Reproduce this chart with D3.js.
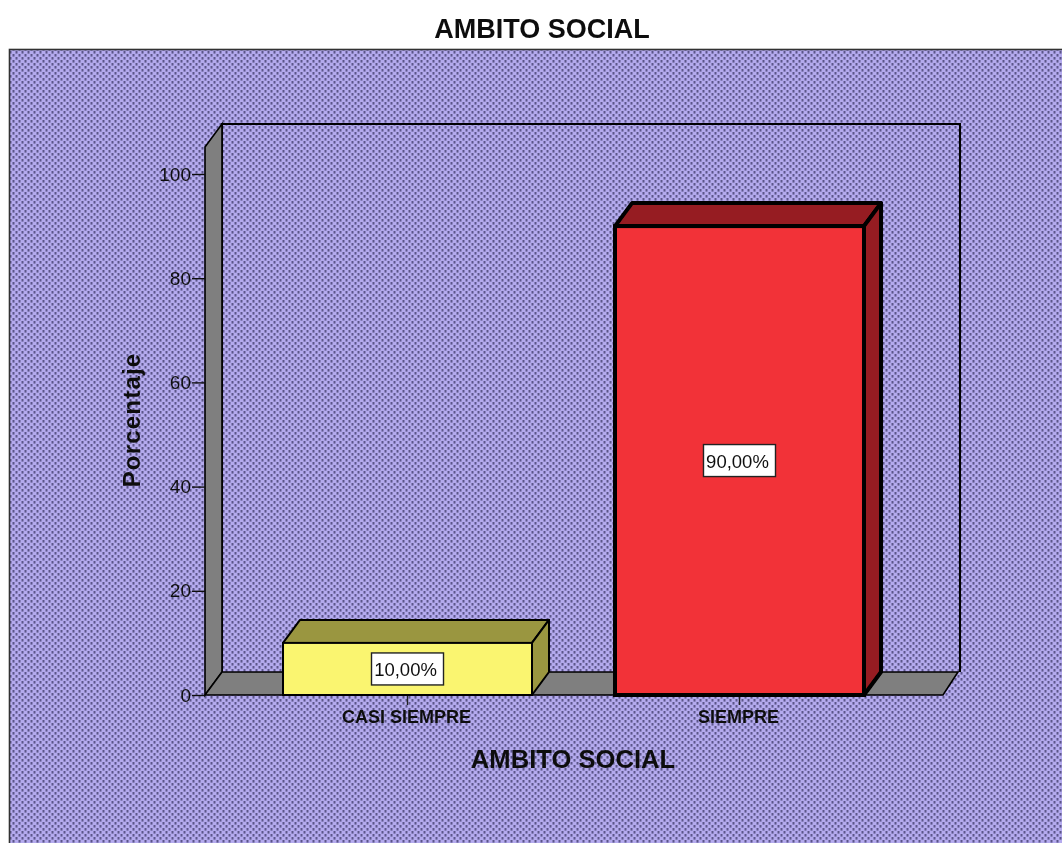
<!DOCTYPE html>
<html><head><meta charset="utf-8">
<script src="https://cdnjs.cloudflare.com/ajax/libs/d3/7.8.5/d3.min.js"></script>
<style>html,body{margin:0;padding:0;background:#fff;overflow:hidden}svg{display:block}text{font-family:"Liberation Sans",Arial,sans-serif;fill:#111}</style>
</head><body><svg id="c" width="1062" height="843"></svg>
<script>
const categories = ["CASI SIEMPRE", "SIEMPRE"];
const percentages = [10, 90];
const valueLabels = ["10,00%", "90,00%"];
const yTicks = [0, 20, 40, 60, 80, 100];
const frontColors = ["#faf56f", "#f23238"];
const sideColors = ["#9a9640", "#961e22"];
const chartTitle = "AMBITO SOCIAL";
const xTitle = "AMBITO SOCIAL";
const yTitle = "Porcentaje";

const svg = d3.select("#c");
const dx = 17, dy = 23;
const x = d3.scaleBand().domain(categories).range([204, 943]).paddingInner(0.25).paddingOuter(0.238);
const y = d3.scaleLinear().domain([0, 100]).range([695, 174]);
const yMax = 105.2;
const line = d3.line();

const defs = svg.append("defs");
const pat = defs.append("pattern").attr("id", "dots").attr("width", 6).attr("height", 6).attr("patternUnits", "userSpaceOnUse");
pat.append("rect").attr("width", 6).attr("height", 6).attr("fill", "#b4aaee");
pat.append("rect").attr("x", 0.5).attr("y", 0).attr("width", 2).attr("height", 2.6).attr("fill", "#5c578a");
pat.append("rect").attr("x", 3.5).attr("y", 3).attr("width", 2).attr("height", 2.6).attr("fill", "#5c578a");
defs.append("filter").attr("id", "soft").attr("filterUnits", "userSpaceOnUse")
  .attr("x", 0).attr("y", 0).attr("width", 1062).attr("height", 843)
  .append("feGaussianBlur").attr("stdDeviation", 0.6);

const root = svg.append("g").attr("filter", "url(#soft)");
root.append("rect").attr("width", 1062).attr("height", 843).attr("fill", "#fff");
root.append("rect").attr("x", 9.5).attr("y", 49.5).attr("width", 1060).attr("height", 810)
  .attr("fill", "url(#dots)").attr("stroke", "#333").attr("stroke-width", 1.6);

const g = root.append("g");
const [x0, x1] = x.range();
const y0 = y(0), yT = y(yMax);
const wx0 = x0 + 1;

// back wall outline
g.append("path").attr("d", line([[wx0 + dx, y0 - dy], [wx0 + dx, yT - dy], [x1 + dx, yT - dy], [x1 + dx, y0 - dy]]))
  .attr("fill", "none").attr("stroke", "#000").attr("stroke-width", 2);
// left wall
g.append("path").attr("d", line([[wx0, y0], [wx0, yT], [wx0 + dx, yT - dy], [wx0 + dx, y0 - dy]]) + "Z")
  .attr("fill", "#7f7f7f").attr("stroke", "#000").attr("stroke-width", 1.6);
// floor
g.append("path").attr("d", line([[wx0, y0], [wx0 + dx, y0 - dy], [x1 + dx - 2, y0 - dy], [x1, y0]]) + "Z")
  .attr("fill", "#7f7f7f").attr("stroke", "#000").attr("stroke-width", 1.6);

// y axis
const yAxis = d3.axisLeft(y).tickValues(yTicks).tickSize(13).tickPadding(1).tickSizeOuter(0);
const ya = g.append("g").attr("transform", `translate(${wx0},0)`).call(yAxis);
ya.select(".domain").remove();
ya.selectAll("line").attr("stroke", "#111").attr("stroke-width", 1.4);
ya.selectAll("text").attr("font-size", 19).attr("fill", "#111").style("font-family", '"Liberation Sans",Arial,sans-serif');

// x axis ticks and labels
const xAxis = d3.axisBottom(x).tickSize(10).tickPadding(5).tickSizeOuter(0);
const xa = g.append("g").attr("transform", `translate(0,${y0})`).call(xAxis);
xa.select(".domain").remove();
xa.selectAll("line").attr("stroke", "#222").attr("stroke-width", 1.4);
xa.selectAll("text").attr("font-size", 18).attr("font-weight", "bold").attr("fill", "#000").attr("dx", -1).style("font-family", '"Liberation Sans",Arial,sans-serif');

// bars
const bars = g.selectAll("g.bar").data(categories).join("g").attr("class", "bar");
const sw = i => i === 1 ? 4 : 2;
bars.each(function (c, i) {
  const b = d3.select(this);
  const l = x(c), r = l + x.bandwidth(), t = y(percentages[i]), bt = y(0);
  b.append("path").attr("d", line([[l, t], [l + dx, t - dy], [r + dx, t - dy], [r, t]]) + "Z")
    .attr("fill", sideColors[i]).attr("stroke", "#000").attr("stroke-width", sw(i)).attr("stroke-linejoin", "round");
  b.append("path").attr("d", line([[r, t], [r + dx, t - dy], [r + dx, bt - dy], [r, bt]]) + "Z")
    .attr("fill", sideColors[i]).attr("stroke", "#000").attr("stroke-width", sw(i)).attr("stroke-linejoin", "round");
  b.append("rect").attr("x", l).attr("y", t).attr("width", x.bandwidth()).attr("height", bt - t)
    .attr("fill", frontColors[i]).attr("stroke", "#000").attr("stroke-width", sw(i));
  const cx = l + x.bandwidth() / 2, cy = (t + bt) / 2;
  b.append("rect").attr("x", cx - 36).attr("y", cy - 16).attr("width", 72).attr("height", 32)
    .attr("fill", "#fff").attr("stroke", "#222").attr("stroke-width", 1.4);
  b.append("text").attr("x", cx - 2).attr("y", cy + 7).attr("text-anchor", "middle").attr("font-size", 18.5).attr("fill", "#111").text(valueLabels[i]);
});

// titles
root.append("text").attr("x", 542).attr("y", 38).attr("text-anchor", "middle").attr("font-size", 27).attr("font-weight", "bold").attr("fill", "#000").text(chartTitle);
root.append("text").attr("x", 573).attr("y", 768).attr("text-anchor", "middle").attr("font-size", 25.6).attr("font-weight", "bold").text(xTitle);
root.append("text").attr("transform", "translate(140,420) rotate(-90)").attr("text-anchor", "middle").attr("font-size", 24).attr("letter-spacing", 1.2).attr("font-weight", "bold").text(yTitle);
</script></body></html>
